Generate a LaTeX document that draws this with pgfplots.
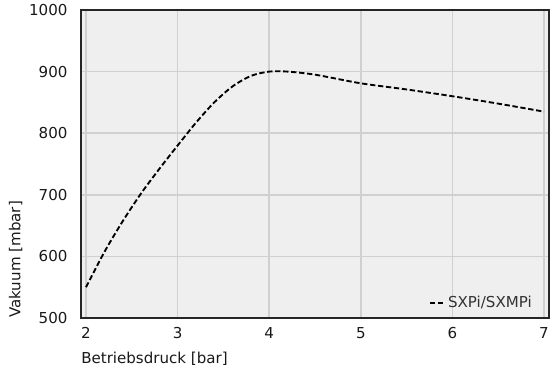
\documentclass[border=0pt]{standalone}
\usepackage{fontspec}
\setmainfont{DejaVu Sans}
\usepackage{pgfplots}
\pgfplotsset{compat=1.18}
\definecolor{bgc}{HTML}{EFEFEF}
\definecolor{gridc}{HTML}{D0D0D0}
\definecolor{txtc}{HTML}{333333}
\begin{document}
\begin{tikzpicture}
\begin{axis}[
  name=ax,
  scale only axis,
  width=351pt, height=231pt,
  xmin=1.945, xmax=7.055,
  ymin=500, ymax=1000,
  xtick={2,3,4,5,6,7},
  ytick={500,600,700,800,900,1000},
  axis background/.style={fill=bgc},
  grid=major,
  major grid style={gridc, line width=1.2pt},
  axis line style={black!85, line width=1.1pt},
  tick style={draw=none},
  /pgf/number format/assume math mode=true,
  /pgf/number format/1000 sep={},
  tick label style={font=\fontsize{11.3}{13}\selectfont, text=black!90},
  yticklabel style={xshift=-6.6pt},
  xticklabel style={yshift=-3.6pt},
  xlabel={Betriebsdruck [bar]},
  ylabel={Vakuum [mbar]},
  label style={font=\fontsize{11.3}{13}\selectfont, text=black!90},
  xlabel style={at={(axis description cs:0,-0.110)}, anchor=north west, inner sep=0pt},
  ylabel style={at={(axis description cs:-0.1246,0)}, anchor=south west, inner sep=0pt},
  legend style={draw=none, fill=none, at={(axis description cs:0.978,0.01)}, anchor=south east, font=\fontsize{11.3}{13}\selectfont, text=txtc},
  legend cell align=left,
  legend image code/.code={\draw[#1, dash pattern=on 4pt off 2pt] (0pt,0pt) -- (11pt,0pt);},
]
\addplot[black, line width=1.4pt, dash pattern=on 4pt off 2pt, smooth, tension=0.5] coordinates {
 (2.0,550) (2.2,607) (2.4,657) (2.6,702) (2.8,742) (3.0,780) (3.2,817) (3.4,850)
 (3.6,876) (3.8,893) (4.0,900) (4.2,900) (4.5,895) (5.0,881) (5.5,871)
 (6.0,860) (6.5,848) (7.0,835)
};
\addlegendentry{SXPi/SXMPi}
\end{axis}
\pgfresetboundingbox
\path[use as bounding box] ([shift={(-60.75pt,-40.5pt)}]ax.south west) rectangle ([shift={(0.75pt,7.5pt)}]ax.north east);
\end{tikzpicture}
\end{document}
